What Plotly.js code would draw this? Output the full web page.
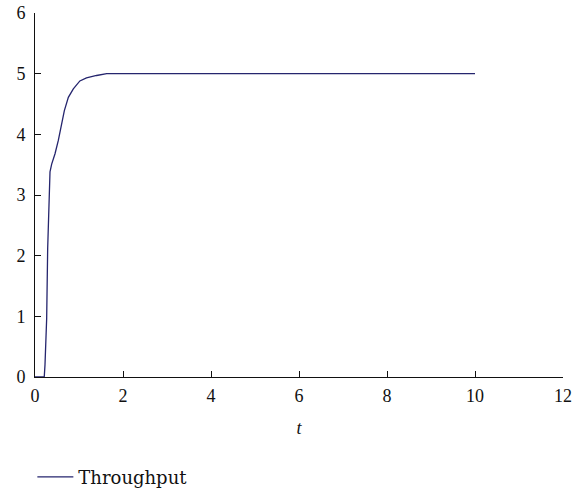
<!DOCTYPE html>
<html>
<head>
<meta charset="utf-8">
<script src="https://cdn.plot.ly/plotly-3.0.1.min.js"></script>
<style>html,body{margin:0;padding:0;background:#fff;}</style>
</head>
<body>
<div id="chart" style="width:574px;height:491px;"></div>
<script>
const tValues = [0, 0.21, 0.227, 0.265, 0.288, 0.326, 0.341, 0.379, 0.455, 0.53, 0.606, 0.667, 0.758, 0.871, 1.02, 1.17, 1.40, 1.63, 3, 5, 7, 10];
const throughput = [0, 0, 0.2, 0.96, 2.11, 2.99, 3.38, 3.51, 3.68, 3.90, 4.17, 4.39, 4.61, 4.75, 4.88, 4.93, 4.97, 5.0, 5.0, 5.0, 5.0, 5.0];
const xTicks = [0, 2, 4, 6, 8, 10, 12];
const yTicks = [0, 1, 2, 3, 4, 5, 6];
const seriesName = 'Throughput';

const fontFam = '"Liberation Serif", "DejaVu Serif", serif';
const legendFam = '"DejaVu Serif", serif';
const trace = {
  x: tValues, y: throughput, type: 'scatter', mode: 'lines', name: seriesName,
  line: {color: '#25256e', width: 1.3}
};
const layout = {
  width: 574, height: 491,
  margin: {l: 35, r: 11, t: 13, b: 114, autoexpand: false},
  paper_bgcolor: '#fff', plot_bgcolor: '#fff',
  font: {family: fontFam, size: 18, color: '#111'},
  showlegend: true,
  legend: {orientation: 'h', x: -0.005, xanchor: 'left', y: -0.275, yanchor: 'middle',
           itemwidth: 36, font: {family: legendFam, size: 18, color: '#111'}},
  xaxis: {
    range: [0, 12], tickvals: xTicks, ticktext: xTicks.map(String),
    showgrid: false, zeroline: false, showline: true, linecolor: '#111', linewidth: 1,
    ticks: 'inside', ticklen: 6, tickcolor: '#111', automargin: false,
    ticklabelstandoff: 2,
    tickfont: {family: fontFam, size: 18},
    title: {text: '<i>t</i>', font: {family: fontFam, size: 18}, standoff: 16}
  },
  yaxis: {
    range: [0, 6], tickvals: yTicks, ticktext: yTicks.map(String),
    showgrid: false, zeroline: false, showline: true, linecolor: '#111', linewidth: 1,
    ticks: 'inside', ticklen: 6, tickcolor: '#111', automargin: false,
    ticklabelstandoff: 5,
    tickfont: {family: fontFam, size: 18}
  }
};
Plotly.newPlot('chart', [trace], layout, {displayModeBar: false, staticPlot: true});
</script>
</body>
</html>
